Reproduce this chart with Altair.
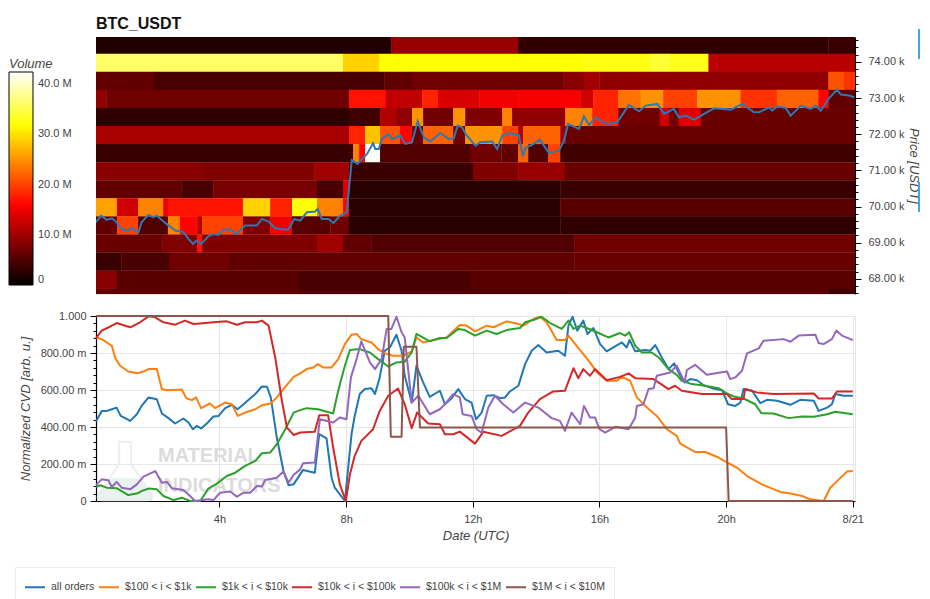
import altair as alt
import pandas as pd

FONT = "Liberation Sans"
INK = "#444444"

# ---------- heat-map: price bands (lower edge, USDT) and per-band runs (end hour, volume in millions)
band_lows = [74220, 73720, 73220, 72720, 72220, 71720, 71220, 70720, 70220, 69720, 69220, 68720, 68220, 67720, 67220]
band_size = 500
start_hour = 0.1
end_hour = 24.07
row00 = [(9.42, 2), (13.43, 9.5), (23.23, 3), (24.07, 3.5)]
row01 = [(7.9, 36), (9.04, 29), (15.5, 32), (17.6, 32.5), (18.2, 34), (19.44, 33), (24.07, 11.5)]
row02 = [(1.93, 6), (9.2, 4.5), (10.1, 6), (14.85, 7), (15.5, 8.5), (16.0, 10), (23.23, 9), (23.7, 21), (24.07, 19)]
row03 = [(0.43, 9), (8.09, 7), (9.25, 17), (10.4, 12), (10.9, 18), (12.2, 13.5), (13.43, 15), (15.4, 15.5), (15.8, 13), (16.59, 18),
         (17.3, 23), (18.01, 25), (19.09, 20), (20.45, 25), (21.6, 19), (22.91, 22), (23.23, 16), (24.07, 6)]
row04 = [(8.09, 3), (9.07, 4), (9.6, 11), (10.08, 9), (10.43, 25), (11.38, 7), (11.76, 25), (12.93, 8), (13.24, 24), (14.92, 9),
         (15.77, 24), (16.59, 18), (17.9, 7), (18.2, 13), (18.5, 7), (19.2, 14), (24.07, 6.5)]
row05 = [(8.09, 10.5), (8.6, 18), (9.07, 28), (9.7, 21), (10.08, 16), (10.43, 6), (11.38, 22), (11.76, 7), (12.93, 25), (13.43, 20),
         (13.59, 11), (14.76, 22), (14.92, 10), (24.07, 6.5)]
row06 = [(8.09, 3.5), (8.22, 4), (8.41, 24), (8.6, 16), (9.07, 42), (11.9, 5), (12.9, 7), (13.43, 6), (13.75, 22), (14.38, 5),
         (14.76, 20), (24.07, 4)]
row07 = [(3.5, 8.5), (7.0, 8), (8.09, 10), (12.0, 3.5), (13.43, 8), (14.9, 9.5), (24.07, 6.5)]
row08 = [(2.8, 6), (3.8, 4.5), (7.08, 7.5), (7.9, 4.5), (8.09, 14), (14.76, 2.5), (24.07, 3.5)]
row09 = [(0.76, 26), (1.43, 13), (2.22, 24), (2.37, 15), (4.74, 17), (5.6, 29), (6.29, 18), (7.08, 32), (7.9, 24), (8.09, 16),
         (14.76, 2.5), (24.07, 5.5)]
row10 = [(0.76, 6), (1.43, 20), (2.37, 5), (2.75, 24), (3.3, 16), (3.45, 11), (4.74, 20), (5.6, 8), (6.29, 15), (7.5, 5.5),
         (8.09, 7), (14.76, 2.5), (24.07, 3)]
row11 = [(2.2, 6.5), (3.29, 8), (3.45, 17), (7.08, 8), (7.9, 10), (8.8, 6), (15.2, 5), (24.07, 7)]
row12 = [(0.9, 3.5), (2.4, 4.5), (4.3, 7), (15.2, 6), (24.07, 6.5)]
row13 = [(0.76, 8.5), (6.5, 5.5), (11.9, 4.5), (24.07, 5.5)]
row14 = [(6.5, 6), (15.0, 5), (23.2, 5.5), (24.07, 4)]
rows = [row00, row01, row02, row03, row04, row05, row06, row07, row08, row09, row10, row11, row12, row13, row14]
seam_overlap_h = 0.012
seam_overlap_p = 8

cells = []
for low, runs in zip(band_lows, rows):
    prev = start_hour
    for end, vol in runs:
        cells.append({"h0": prev, "h1": end + seam_overlap_h, "lo": low, "hi": low + band_size + seam_overlap_p, "vol": vol * 1e6})
        prev = end
cells = pd.DataFrame(cells)

# ---------- price line
price_h = [.10,.26,.44,.60,.73,.91,1.07,1.23,1.44,1.54,1.75,1.91,2.02,2.23,2.44,2.60,2.86,3.02,3.16,3.28,3.42,3.65,3.81,3.97,4.13,4.34,4.53,4.81,5.18,5.34,5.55,5.76,6.02,6.18,6.36,6.55,6.76,7.02,7.10,7.23,7.44,7.60,7.81,8.02,8.10,8.18,8.36,8.50,8.66,8.85,8.92,9.03,9.13,9.34,9.45,9.71,9.87,10.08,10.26,10.45,10.66,10.97,11.24,11.40,11.52,11.66,11.77,12.08,12.24,12.61,12.77,12.93,13.14,13.45,13.58,13.66,13.88,14.12,14.40,14.72,14.88,15.01,15.35,15.51,15.67,15.88,16.14,16.30,16.56,16.93,17.25,17.46,17.83,18.04,18.35,18.51,18.72,18.99,19.36,19.62,20.15,20.51,20.88,21.04,21.36,21.46,21.62,21.88,22.04,22.36,22.67,22.83,22.99,23.25,23.50,23.62,23.89,24.04]
price_v = [69.565,69.749,69.63,69.675,69.583,69.38,69.334,69.399,69.288,69.565,69.768,69.703,69.749,69.583,69.445,69.334,69.288,69.104,68.965,69.058,68.965,69.177,69.242,69.214,69.362,69.362,69.242,69.473,69.473,69.657,69.583,69.399,69.362,69.362,69.657,69.61,69.841,69.86,69.934,69.657,69.657,69.546,69.749,69.841,70.579,71.289,71.178,71.317,71.455,71.75,71.593,71.593,71.87,72.008,71.87,71.962,71.732,71.778,72.359,71.916,71.796,72.036,71.87,71.888,72.239,72.193,72.008,71.686,71.778,71.796,71.593,71.962,72.036,71.98,71.39,71.62,71.713,71.852,71.483,71.547,71.824,72.285,72.147,72.497,72.257,72.469,72.313,72.285,72.331,72.81,72.635,72.792,72.838,72.562,72.70,72.469,72.515,72.405,72.59,72.718,72.681,72.838,72.608,72.608,72.746,72.654,72.774,72.728,72.515,72.792,72.70,72.792,72.654,72.995,73.235,73.096,73.069,73.023]

# ---------- CVD lines
blue_h = [.10,.28,.44,.60,.75,.88,1.02,1.18,1.39,1.54,1.76,2.02,2.18,2.39,2.60,2.86,3.02,3.16,3.28,3.42,3.60,3.81,3.97,4.18,4.39,4.57,4.76,4.92,5.13,5.34,5.50,5.62,5.81,6.02,6.18,6.34,6.64,7.01,7.15,7.38,7.54,7.64,7.96,8.17,8.27,8.43,8.59,8.80,8.91,9.06,9.22,9.38,9.59,9.75,9.85,10.07,10.22,10.43,10.64,10.96,11.12,11.33,11.54,11.75,11.96,12.10,12.28,12.44,12.65,12.86,13.02,13.17,13.44,13.65,13.86,14.07,14.33,14.70,14.91,15.02,15.15,15.30,15.49,15.62,15.81,16.02,16.23,16.44,16.71,16.86,16.95,17.13,17.44,17.60,17.76,17.97,18.18,18.36,18.55,18.69,18.87,19.08,19.29,19.55,19.87,20.06,20.29,20.45,20.55,20.82,21.08,21.29,21.61,22.03,22.34,22.77,22.92,23.19,23.34,23.45,23.71,24.0]
blue_v = [.43,.487,.487,.496,.505,.46,.448,.433,.469,.514,.56,.55,.473,.448,.419,.446,.424,.388,.406,.392,.419,.457,.46,.502,.52,.496,.523,.547,.578,.619,.617,.56,.343,.162,.085,.09,.168,.153,.361,.339,.126,.072,0,.361,.46,.578,.605,.61,.578,.668,.812,.83,.899,.812,.677,.532,.731,.641,.563,.596,.523,.556,.605,.551,.532,.442,.478,.569,.572,.556,.56,.592,.623,.74,.812,.843,.803,.812,.785,.948,.996,.92,.975,.903,.935,.848,.809,.83,.857,.83,.87,.809,.816,.812,.843,.776,.713,.744,.677,.641,.659,.653,.626,.61,.599,.523,.514,.532,.605,.596,.529,.547,.542,.52,.547,.542,.487,.505,.523,.578,.569,.569]
orange_h = [.10,.28,.60,.70,.86,1.12,1.41,1.60,1.76,2.02,2.18,2.34,2.81,2.95,3.13,3.26,3.42,3.70,3.86,4.18,4.39,4.58,4.81,5.13,5.34,5.62,5.81,6.02,6.34,6.55,6.75,6.96,7.11,7.27,7.54,7.75,7.96,8.17,8.33,8.48,8.80,9.01,9.28,9.49,9.80,10.07,10.22,10.43,10.75,11.17,11.59,11.80,12.07,12.44,12.65,13.07,13.38,13.60,13.91,14.12,14.33,14.65,14.91,15.02,15.28,15.49,15.70,15.92,16.23,16.55,16.71,16.97,17.18,17.50,17.81,18.13,18.44,18.55,19.02,19.34,19.76,20.08,20.34,20.66,21.13,21.71,22.03,22.40,22.66,23.08,23.29,23.56,23.82,24.0]
orange_v = [.884,.875,.839,.776,.731,.70,.69,.70,.713,.713,.605,.599,.603,.556,.545,.56,.502,.527,.502,.532,.523,.46,.478,.496,.518,.527,.56,.605,.671,.69,.713,.722,.74,.722,.722,.767,.848,.899,.903,.875,.857,.821,.794,.785,.785,.809,.884,.857,.87,.884,.951,.948,.917,.948,.939,.971,.96,.948,.984,.996,.966,.87,.87,.894,.839,.794,.749,.695,.65,.65,.671,.65,.56,.505,.46,.388,.352,.31,.265,.265,.235,.204,.181,.135,.09,.049,.04,.027,.009,0,.072,.117,.159,.162]
green_h = [.10,.23,.44,.75,1.12,1.39,1.54,1.76,2.02,2.23,2.55,2.81,3.07,3.39,3.65,3.92,4.23,4.50,4.81,5.13,5.34,5.60,5.81,6.08,6.34,6.55,6.75,7.11,7.59,7.75,7.96,8.12,8.43,8.75,9.01,9.33,9.59,9.85,10.07,10.22,10.64,10.96,11.17,11.54,11.75,12.07,12.44,12.75,13.07,13.49,13.65,13.91,14.17,14.49,14.81,15.02,15.18,15.39,15.76,15.92,16.28,16.65,16.81,16.94,17.13,17.34,17.65,17.87,18.18,18.44,18.60,18.92,19.34,19.76,20.03,20.24,20.55,20.92,21.11,21.50,21.97,22.40,22.77,23.19,23.45,24.0]
green_v = [.076,.085,.072,.069,.032,.04,.054,.067,.063,.027,.005,.018,0,0,.067,.094,.135,.153,.19,.217,.258,.262,.307,.388,.478,.491,.502,.496,.473,.596,.731,.816,.821,.803,.767,.727,.749,.753,.803,.903,.863,.881,.881,.93,.924,.894,.921,.903,.924,.935,.966,.978,.996,.957,.93,.975,.93,.948,.924,.912,.884,.908,.894,.912,.839,.803,.803,.776,.713,.682,.65,.632,.623,.61,.581,.565,.554,.523,.475,.473,.448,.457,.455,.469,.482,.469]
red_h = [.10,.28,.54,.75,1.18,1.49,1.76,1.97,2.23,2.60,2.91,3.18,3.39,3.81,4.23,4.55,4.81,5.18,5.34,5.55,5.76,5.97,6.13,6.34,6.55,7.01,7.15,7.43,7.59,7.80,7.99,8.12,8.27,8.48,8.85,9.06,9.33,9.64,9.85,10.07,10.24,10.59,10.96,11.12,11.38,11.59,12.07,12.33,12.91,13.49,13.75,14.12,14.54,14.91,15.18,15.33,15.49,15.70,15.86,16.23,16.65,16.92,17.13,17.71,18.18,18.39,18.60,19.24,20.03,20.18,20.55,20.60,20.97,21.50,22.77,22.92,23.34,23.50,23.82,24.0]
red_v = [.881,.921,.942,.962,.939,.966,.998,.993,.966,.953,.975,.957,.96,.966,.971,.953,.966,.966,.975,.948,.776,.542,.397,.357,.37,.374,.464,.464,.289,.09,0,.144,.244,.325,.388,.487,.569,.608,.523,.394,.478,.419,.415,.361,.361,.375,.31,.374,.352,.406,.478,.551,.592,.596,.718,.664,.713,.677,.713,.653,.671,.69,.664,.659,.605,.623,.596,.578,.578,.551,.551,.605,.587,.578,.581,.554,.554,.592,.592,.592]
purple_h = [.10,.28,.49,.60,.75,.91,1.18,1.39,1.60,1.97,2.18,2.34,2.49,2.86,3.07,3.23,3.65,3.81,4.02,4.34,4.55,4.76,4.97,5.18,5.34,5.44,5.81,6.02,6.18,6.34,6.55,6.64,7.01,7.17,7.59,7.80,8.01,8.15,8.33,8.48,8.75,8.91,9.12,9.28,9.43,9.59,9.75,9.85,10.07,10.28,10.64,10.96,11.12,11.38,11.59,11.68,11.96,12.12,12.28,12.49,12.70,12.96,13.28,13.65,14.07,14.49,14.75,14.91,15.12,15.39,15.51,15.70,15.86,16.0,16.18,16.50,16.92,17.13,17.18,17.39,17.55,17.71,17.81,18.23,18.44,18.69,18.76,19.02,19.39,19.81,20.03,20.13,20.29,20.50,20.66,21.03,21.18,21.82,22.03,22.29,22.82,22.92,23.08,23.34,23.48,23.66,24.0]
purple_v = [.087,.117,.112,.076,.103,.072,.063,.09,.132,.162,.099,.103,.069,.06,.027,0,.009,.005,.045,.051,.023,.045,.045,.081,.078,.114,.126,.159,.099,.141,.171,.204,.208,.442,.424,.451,.442,.668,.767,.863,.749,.713,.767,.93,.93,.996,.912,.884,.532,.569,.469,.496,.523,.578,.56,.469,.46,.388,.37,.505,.569,.523,.478,.532,.505,.448,.433,.379,.478,.415,.514,.451,.451,.388,.37,.401,.388,.451,.514,.523,.605,.61,.677,.695,.731,.641,.708,.736,.682,.695,.70,.659,.668,.704,.798,.825,.866,.875,.861,.894,.899,.854,.848,.875,.921,.894,.87]
brown_h = [.10,9.33,9.41,9.75,9.82,10.22,10.33,20.0,20.08,24.0]
brown_v = [1,1,.347,.347,.834,.834,.397,.397,0,0]

series_names = ["all orders", "$100 < i < $1k", "$1k < i < $10k", "$10k < i < $100k", "$100k < i < $1M", "$1M < i < $10M"]
series_colors = ["#1f77b4", "#ff7f0e", "#2ca02c", "#d62728", "#9467bd", "#8c564b"]
series_hours = [blue_h, orange_h, green_h, red_h, purple_h, brown_h]
series_vals = [blue_v, orange_v, green_v, red_v, purple_v, brown_v]
cvd = pd.DataFrame(
    [{"h": h, "v": v, "series": n} for n, hs, vs in zip(series_names, series_hours, series_vals) for h, v in zip(hs, vs)]
)
price = pd.DataFrame({"h": price_h, "p": [p * 1000 for p in price_v]})

hour_ticks = [4, 8, 12, 16, 20, 24]
price_ticks = list(range(67600, 74800, 200))
cvd_ticks = [round(i * 0.04, 2) for i in range(26)]
vol_ticks = [0, 1e7, 2e7, 3e7, 4e7]
vol_domain = [0, 15.9e6, 31.8e6, 42.4e6]
vol_colors = ["#000000", "#ff0000", "#ffff00", "#ffffff"]

x_scale = alt.Scale(domain=[start_hour, end_hour], nice=False, zero=False)
y_price = alt.Scale(domain=[67580, 74690], nice=False, zero=False)
W, H1, H2 = 759, 257, 185

heat = alt.Chart(cells).mark_rect(clip=True).encode(
    x=alt.X("h0:Q", scale=x_scale, axis=None),
    x2="h1:Q",
    y=alt.Y("lo:Q", scale=y_price, axis=alt.Axis(
        orient="right", values=price_ticks, title="Price [USDT]", titleAngle=90, titleFont=FONT,
        titleFontStyle="italic", titleFontWeight="normal", titleFontSize=13, titleColor=INK, titlePadding=2,
        labelExpr="datum.value % 1000 === 0 ? format(datum.value / 1000, '.2f') + ' k' : ''",
        labelFont=FONT, labelFontSize=11, labelColor=INK, labelOverlap=False, labelPadding=7, labelBound=False, labelFlush=False,
        tickColor="#000", domainColor="#000", grid=False,
        tickSize={"condition": {"test": "datum.value % 1000 === 0", "value": 6}, "value": 3},
    )),
    y2="hi:Q",
    fill=alt.Fill("vol:Q", scale=alt.Scale(domain=vol_domain, range=vol_colors, interpolate="rgb"), legend=alt.Legend(
        type="gradient", orient="none", legendX=-87, legendY=21, title="Volume", titleFont=FONT, titleFontStyle="italic",
        titleFontWeight="normal", titleFontSize=13, titleColor=INK, titlePadding=1, direction="vertical",
        gradientLength=213, gradientThickness=24, gradientStrokeColor="#000", gradientStrokeWidth=1,
        values=vol_ticks, labelFont=FONT, labelFontSize=11, labelColor=INK, labelOffset=5, labelOverlap=False,
        labelExpr="datum.value === 0 ? '0' : format(datum.value / 1e6, '.1f') + ' M'",
    )),
)
price_line = alt.Chart(price).mark_line(clip=True, color="#2f78b4", strokeWidth=2).encode(
    x=alt.X("h:Q", scale=x_scale, axis=None),
    y=alt.Y("p:Q", scale=y_price, axis=None),
)
legend_ticks = alt.Chart(pd.DataFrame({"t": vol_ticks})).mark_rule(color="#000", strokeWidth=1).encode(
    x=alt.value(-69), x2=alt.value(-63),
    y=alt.Y("t:Q", scale=alt.Scale(domain=[0, 42.4e6], range=[247, 35], nice=False), axis=None),
)
side_marks = alt.Chart(pd.DataFrame({"a": [-8, 145], "b": [22, 175]})).mark_rule(color="#3fa9dc", strokeWidth=2).encode(
    x=alt.value(823),
    y=alt.Y("a:Q", scale=alt.Scale(domain=[0, H1], range=[0, H1], nice=False), axis=None),
    y2="b:Q",
)
top = alt.layer(heat, price_line, legend_ticks, side_marks).resolve_scale(y="independent").properties(
    width=W, height=H1,
    title=alt.TitleParams("BTC_USDT", anchor="start", frame="group", font=FONT, fontSize=16, fontWeight="bold", color="#111111", offset=-4),
)

one = pd.DataFrame({"k": ["MATERIAL", "INDICATORS"], "y": [140, 170]})
wm_text = alt.Chart(one).mark_text(
    font=FONT, fontSize=20, fontWeight="bold", align="left", baseline="middle", color="#d9d9d9", opacity=0.9
).encode(x=alt.value(62), y=alt.Y("y:Q", scale=alt.Scale(domain=[0, H2], range=[0, H2], nice=False), axis=None), text="k:N")
flask_shape = "M-0.2 -1 L0.2 -1 L0.2 -0.25 L0.92 0.82 Q1 1 0.8 1 L-0.8 1 Q-1 1 -0.92 0.82 L-0.2 -0.25 Z"
liquid_shape = "M-0.5 0.25 L0.5 0.25 L0.92 0.82 Q1 1 0.8 1 L-0.8 1 Q-1 1 -0.92 0.82 Z"
flask = alt.Chart(one.head(1)).mark_point(shape=flask_shape, filled=False, stroke="#e8e8e8", strokeWidth=2, size=3400).encode(
    x=alt.value(29), y=alt.value(155))
liquid = alt.Chart(one.head(1)).mark_point(shape=liquid_shape, filled=True, fill="#e9f3ee", opacity=1, size=3400, strokeWidth=0).encode(
    x=alt.value(29), y=alt.value(155))

lines = alt.Chart(cvd).mark_line(strokeWidth=2, strokeJoin="round").encode(
    x=alt.X("h:Q", scale=x_scale, axis=alt.Axis(
        values=hour_ticks, title="Date (UTC)", titleFont=FONT, titleFontStyle="italic", titleFontWeight="normal",
        titleFontSize=13, titleColor=INK, titlePadding=5,
        labelExpr="datum.value === 24 ? '8/21' : datum.value + 'h'", labelFont=FONT, labelFontSize=11, labelColor=INK,
        labelPadding=6, tickSize=6, tickColor="#000", domainColor="#000", domainWidth=1.2, gridColor="#e6e6e6", grid=True,
        labelFlush=False, labelBound=False, labelOverlap=False,
    )),
    y=alt.Y("v:Q", scale=alt.Scale(domain=[0, 1], nice=False), axis=alt.Axis(
        values=cvd_ticks, title="Normalized CVD [arb. u.]", titleFont=FONT, titleFontStyle="italic",
        titleFontWeight="normal", titleFontSize=13, titleColor=INK, titlePadding=8,
        labelExpr="round(datum.value * 1000) % 200 !== 0 ? '' : datum.value === 0 ? '0' : datum.value === 1 ? '1.000' : format(datum.value * 1000, '.2f') + ' m'",
        labelFont=FONT, labelFontSize=11, labelColor=INK, labelPadding=4, labelOverlap=False, labelFlush=False, labelBound=False,
        tickColor="#000", domainColor="#000", domainWidth=1.2, grid=True, gridColor="#e6e6e6",
        tickSize={"condition": {"test": "round(datum.value * 1000) % 200 === 0", "value": 6}, "value": 3},
        gridOpacity={"condition": {"test": "round(datum.value * 1000) % 200 === 0", "value": 1}, "value": 0},
    )),
    color=alt.Color("series:N", scale=alt.Scale(domain=series_names, range=series_colors), legend=alt.Legend(
        orient="none", legendX=-81, legendY=251, title=None, direction="horizontal", columns=6,
        symbolType="stroke", symbolSize=400, symbolStrokeWidth=2, labelFont=FONT, labelFontSize=10.5, labelColor=INK,
        labelOffset=5, columnPadding=0, padding=9, fillColor="#ffffff", strokeColor="#eeeeee", labelLimit=200,
    )),
)
bottom = alt.layer(liquid, flask, wm_text, lines).resolve_scale(y="independent").properties(width=W, height=H2)

chart = (
    alt.vconcat(top, bottom, spacing=10)
    .resolve_scale(color="independent", fill="independent", stroke="independent")
    .properties(padding={"left": 0, "top": 7, "right": 0, "bottom": 0})
    .configure_view(stroke="#e6e6e6")
)
chart.save("out.html", embed_options={"renderer": "svg", "actions": False})
